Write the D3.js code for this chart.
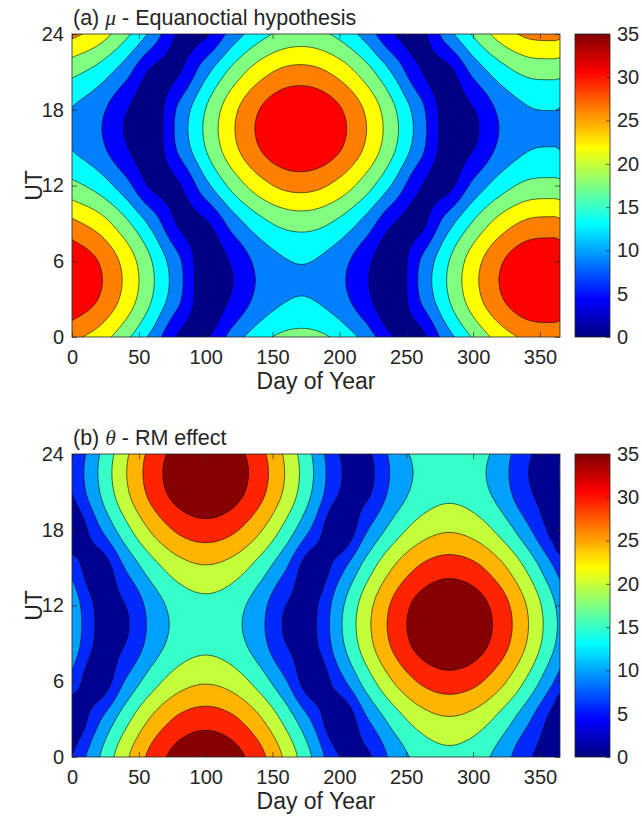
<!DOCTYPE html>
<html>
<head>
<meta charset="utf-8">
<script src="https://cdn.jsdelivr.net/npm/d3@7"></script>
<style>
  body { margin: 0; background: #fff; }
  text { font-family: "Liberation Sans", Arial, sans-serif; fill: #262626; }
</style>
</head>
<body>
<svg id="chart" width="642" height="823"></svg>
<script>
var days = [0, 20, 40, 60, 80, 100, 120, 140, 160, 180, 200, 220, 240, 260, 280, 300, 320, 340, 360, 365];
var hours = [0, 3, 6, 9, 12, 15, 18, 21, 24];

// Contour levels (8 filled bands between 0 and 35)
var levels = [4.375, 8.75, 13.125, 17.5, 21.875, 26.25, 30.625];

// Tick labels
var dayTicks = [0, 50, 100, 150, 200, 250, 300, 350];
var hourTicks = [0, 6, 12, 18, 24];
var colorTicks = [0, 5, 10, 15, 20, 25, 30, 35];

// (a) mu in degrees, one list per UT row (0, 3, ... 24 h), one value per day column
var muUT0 = [27.3, 24.2, 18.7, 11.7, 3.9, 3.8, 10.6, 15.8, 18.7, 18.9, 16.3, 11.3, 4.6, 3.1, 10.9, 18.0, 23.7, 27.1, 27.7, 27.3];
var muUT3 = [33.8, 30.5, 24.7, 17.4, 9.5, 1.8, 5.0, 10.1, 12.9, 13.1, 10.5, 5.6, 1.1, 8.7, 16.7, 24.1, 30.0, 33.6, 34.2, 33.8];
var muUT6 = [33.8, 30.5, 24.7, 17.4, 9.5, 1.8, 5.0, 10.1, 12.9, 13.1, 10.5, 5.6, 1.1, 8.7, 16.7, 24.1, 30.0, 33.6, 34.2, 33.8];
var muUT9 = [27.3, 24.2, 18.7, 11.7, 3.9, 3.8, 10.6, 15.8, 18.7, 18.9, 16.3, 11.3, 4.6, 3.1, 10.9, 18.0, 23.7, 27.1, 27.7, 27.3];
var muUT12 = [18.7, 15.7, 10.5, 3.6, 4.1, 11.8, 18.9, 24.3, 27.4, 27.5, 24.7, 19.5, 12.6, 4.9, 2.9, 9.9, 15.3, 18.5, 19.0, 18.7];
var muUT15 = [12.9, 10.0, 4.8, 2.0, 9.7, 17.6, 24.9, 30.6, 33.9, 34.0, 31.1, 25.6, 18.4, 10.5, 2.7, 4.2, 9.6, 12.7, 13.2, 12.9];
var muUT18 = [12.9, 10.0, 4.8, 2.0, 9.7, 17.6, 24.9, 30.6, 33.9, 34.0, 31.1, 25.6, 18.4, 10.5, 2.7, 4.2, 9.6, 12.7, 13.2, 12.9];
var muUT21 = [18.7, 15.7, 10.5, 3.6, 4.1, 11.8, 18.9, 24.3, 27.4, 27.5, 24.7, 19.5, 12.6, 4.9, 2.9, 9.9, 15.3, 18.5, 19.0, 18.7];
var muUT24 = [27.3, 24.2, 18.7, 11.7, 3.9, 3.8, 10.6, 15.8, 18.7, 18.9, 16.3, 11.3, 4.6, 3.1, 10.9, 18.0, 23.7, 27.1, 27.7, 27.3];

// (b) theta in degrees, same layout
var thetaUT0 = [4.4, 12.8, 20.9, 27.8, 32.5, 34.2, 32.5, 27.8, 20.9, 12.8, 4.4, 3.5, 10.1, 14.6, 16.4, 15.3, 11.4, 5.3, 2.3, 4.4];
var thetaUT3 = [0.3, 8.0, 15.9, 22.6, 27.1, 28.7, 27.1, 22.6, 15.9, 8.0, 0.3, 8.2, 14.9, 19.5, 21.4, 20.2, 16.2, 10.0, 2.4, 0.3];
var thetaUT6 = [7.0, 1.4, 9.1, 15.6, 19.9, 21.4, 19.9, 15.6, 9.1, 1.4, 7.0, 15.0, 21.9, 26.7, 28.7, 27.5, 23.3, 16.9, 9.0, 7.0];
var thetaUT9 = [11.7, 3.4, 4.4, 10.7, 15.0, 16.4, 15.0, 10.7, 4.4, 3.4, 11.7, 19.9, 27.0, 32.1, 34.2, 32.9, 28.5, 21.8, 13.8, 11.7];
var thetaUT12 = [11.7, 3.4, 4.4, 10.7, 15.0, 16.4, 15.0, 10.7, 4.4, 3.4, 11.7, 19.9, 27.0, 32.1, 34.2, 32.9, 28.5, 21.8, 13.8, 11.7];
var thetaUT15 = [7.0, 1.4, 9.1, 15.6, 19.9, 21.4, 19.9, 15.6, 9.1, 1.4, 7.0, 15.0, 21.9, 26.7, 28.7, 27.5, 23.3, 16.9, 9.0, 7.0];
var thetaUT18 = [0.3, 8.0, 15.9, 22.6, 27.1, 28.7, 27.1, 22.6, 15.9, 8.0, 0.3, 8.2, 14.9, 19.5, 21.4, 20.2, 16.2, 10.0, 2.4, 0.3];
var thetaUT21 = [4.4, 12.8, 20.9, 27.8, 32.5, 34.2, 32.5, 27.8, 20.9, 12.8, 4.4, 3.5, 10.1, 14.6, 16.4, 15.3, 11.4, 5.3, 2.3, 4.4];
var thetaUT24 = [4.4, 12.8, 20.9, 27.8, 32.5, 34.2, 32.5, 27.8, 20.9, 12.8, 4.4, 3.5, 10.1, 14.6, 16.4, 15.3, 11.4, 5.3, 2.3, 4.4];

// Band fill colours, lowest band first
var muColors = ["#000085", "#0000ff", "#0080ff", "#00ffff", "#80ff80", "#ffff00", "#ff8000", "#ff0000"];
var thetaColors = ["#000090", "#0028ff", "#00a0ff", "#36ffc9", "#c4ff3b", "#ffb400", "#ff2400", "#870000"];

var svg = d3.select("#chart");

var x = d3.scaleLinear().domain([0, 365]).range([72, 560]);

var panels = [
  { id: "a", top: 34, bottom: 337, colors: muColors, prefix: "(a) ", sym: "\u03bc", suffix: " - Equanoctial hypothesis",
    rows: [muUT0, muUT3, muUT6, muUT9, muUT12, muUT15, muUT18, muUT21, muUT24] },
  { id: "b", top: 454, bottom: 757, colors: thetaColors, prefix: "(b) ", sym: "\u03b8", suffix: " - RM effect",
    rows: [thetaUT0, thetaUT3, thetaUT6, thetaUT9, thetaUT12, thetaUT15, thetaUT18, thetaUT21, thetaUT24] }
];

// extend a periodic series by one point on each side
function periodic(xs, ys, period) {
  var n = xs.length;
  return {
    xs: [xs[n - 2] - period].concat(xs, [xs[1] + period]),
    ys: [ys[n - 2]].concat(ys, [ys[1]])
  };
}

// cubic hermite (catmull-rom like) between read points
function cubic(xs, ys, v) {
  var i = 1;
  while (i < xs.length - 3 && v > xs[i + 1]) i++;
  var h = xs[i + 1] - xs[i], t = (v - xs[i]) / h;
  var m0 = (ys[i + 1] - ys[i - 1]) / (xs[i + 1] - xs[i - 1]) * h;
  var m1 = (ys[i + 2] - ys[i]) / (xs[i + 2] - xs[i]) * h;
  var t2 = t * t, t3 = t2 * t;
  return (2 * t3 - 3 * t2 + 1) * ys[i] + (t3 - 2 * t2 + t) * m0 + (3 * t2 - 2 * t3) * ys[i + 1] + (t3 - t2) * m1;
}

var nx = 366, ny = 241; // 1 day x 0.1 h drawing grid

function buildGrid(rows) {
  var dayRows = rows.map(function (r) {
    var p = periodic(days, r, 365);
    return d3.range(nx).map(function (i) { return cubic(p.xs, p.ys, i); });
  });
  var values = new Float64Array(nx * ny);
  for (var i = 0; i < nx; i++) {
    var col = dayRows.map(function (r) { return r[i]; });
    var p = periodic(hours, col, 24);
    for (var j = 0; j < ny; j++) values[j * nx + i] = cubic(p.xs, p.ys, j * 0.1);
  }
  return values;
}

// jet gradient for the colour bars
var defs = svg.append("defs");
var grad = defs.append("linearGradient").attr("id", "jet")
  .attr("x1", 0).attr("y1", 1).attr("x2", 0).attr("y2", 0);
[[0, "#000080"], [0.125, "#0000ff"], [0.375, "#00ffff"], [0.625, "#ffff00"], [0.875, "#ff0000"], [1, "#800000"]]
  .forEach(function (s) { grad.append("stop").attr("offset", s[0]).attr("stop-color", s[1]); });

panels.forEach(function (p) {
  var y = d3.scaleLinear().domain([0, 24]).range([p.bottom, p.top]);
  var g = svg.append("g");

  defs.append("clipPath").attr("id", "clip-" + p.id)
    .append("rect").attr("x", 72).attr("y", p.top).attr("width", 488).attr("height", p.bottom - p.top);

  var values = buildGrid(p.rows);
  var contours = d3.contours().size([nx, ny]).thresholds(levels)(values);

  var path = d3.geoPath(d3.geoTransform({
    point: function (cx, cy) { this.stream.point(x(cx - 0.5), y((cy - 0.5) * 0.1)); }
  }));

  var plot = g.append("g").attr("clip-path", "url(#clip-" + p.id + ")");
  plot.append("rect")
    .attr("x", 72).attr("y", p.top).attr("width", 488).attr("height", p.bottom - p.top)
    .attr("fill", p.colors[0]);
  plot.selectAll("path.band")
    .data(contours)
    .enter().append("path")
    .attr("class", "band")
    .attr("d", path)
    .attr("fill", function (d, i) { return p.colors[i + 1]; })
    .attr("stroke", "#000")
    .attr("stroke-width", 0.6)
    .attr("stroke-linejoin", "round");

  // axes, ticks pointing inward
  var bottomAxis = g.append("g").attr("transform", "translate(0," + p.bottom + ")")
    .call(d3.axisBottom(x).tickValues(dayTicks).tickSizeInner(-5).tickSizeOuter(0).tickPadding(13));
  g.append("g").attr("transform", "translate(0," + p.top + ")")
    .call(d3.axisTop(x).tickValues(dayTicks).tickSizeInner(-5).tickSizeOuter(0).tickFormat(""));
  var leftAxis = g.append("g").attr("transform", "translate(72,0)")
    .call(d3.axisLeft(y).tickValues(hourTicks).tickSizeInner(-5).tickSizeOuter(0).tickPadding(8));
  g.append("g").attr("transform", "translate(560,0)")
    .call(d3.axisRight(y).tickValues(hourTicks).tickSizeInner(-5).tickSizeOuter(0).tickFormat(""));
  g.selectAll(".domain").remove();
  g.selectAll(".tick line").attr("stroke", "#262626").attr("stroke-width", 0.7);
  bottomAxis.selectAll("text").attr("font-size", 20).attr("fill", "#262626");
  leftAxis.selectAll("text").attr("font-size", 20).attr("fill", "#262626");

  g.append("rect")
    .attr("x", 72).attr("y", p.top).attr("width", 488).attr("height", p.bottom - p.top)
    .attr("fill", "none").attr("stroke", "#262626").attr("stroke-width", 0.8);

  // labels
  g.append("text")
    .attr("x", 316).attr("y", p.bottom + 52)
    .attr("text-anchor", "middle").attr("font-size", 23)
    .text("Day of Year");
  g.append("text")
    .attr("transform", "translate(42," + (p.top + p.bottom) / 2 + ") rotate(-90)")
    .attr("text-anchor", "middle").attr("font-size", 23)
    .text("UT");
  var title = g.append("text")
    .attr("x", 73).attr("y", p.top - 9)
    .attr("font-size", 21.5);
  title.append("tspan").text(p.prefix);
  title.append("tspan").attr("font-family", "Liberation Serif, serif").attr("font-style", "italic").text(p.sym);
  title.append("tspan").text(p.suffix);

  // colour bar
  var c = d3.scaleLinear().domain([0, 35]).range([p.bottom, p.top]);
  g.append("rect")
    .attr("x", 575).attr("y", p.top).attr("width", 35).attr("height", p.bottom - p.top)
    .attr("fill", "url(#jet)").attr("stroke", "#262626").attr("stroke-width", 0.8);
  var cAxis = g.append("g").attr("transform", "translate(610,0)")
    .call(d3.axisRight(c).tickValues(colorTicks).tickSizeInner(-4).tickSizeOuter(0).tickPadding(7));
  cAxis.select(".domain").remove();
  cAxis.selectAll(".tick line").attr("stroke", "#262626").attr("stroke-width", 0.7);
  cAxis.selectAll("text").attr("font-size", 20).attr("fill", "#262626");
});
</script>
</body>
</html>
